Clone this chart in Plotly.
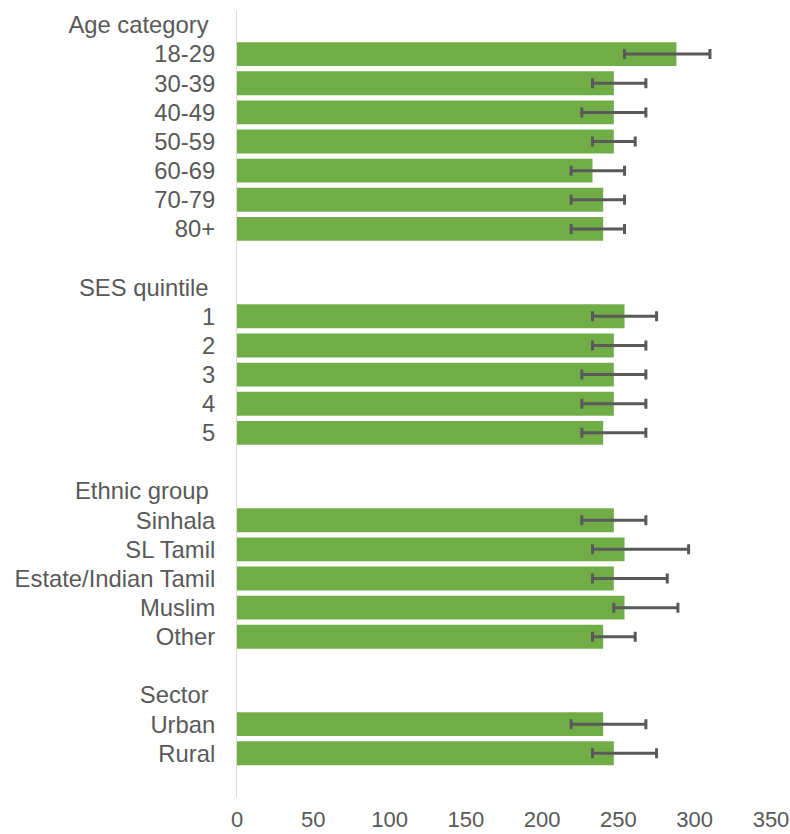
import plotly.graph_objects as go

# Group headers and the category labels under each
age_labels = ["18-29", "30-39", "40-49", "50-59", "60-69", "70-79", "80+"]
ses_labels = ["1", "2", "3", "4", "5"]
ethnic_labels = ["Sinhala", "SL Tamil", "Estate/Indian Tamil", "Muslim", "Other"]
sector_labels = ["Urban", "Rural"]

# Mean values
age_mean = [288, 247, 247, 247, 233, 240, 240]
ses_mean = [254, 247, 247, 247, 240]
ethnic_mean = [247, 254, 247, 254, 240]
sector_mean = [240, 247]

# 95% CI lower bounds
age_low = [254, 233, 226, 233, 219, 219, 219]
ses_low = [233, 233, 226, 226, 226]
ethnic_low = [226, 233, 233, 247, 233]
sector_low = [219, 233]

# 95% CI upper bounds
age_high = [310, 268, 268, 261, 254, 254, 254]
ses_high = [275, 268, 268, 268, 268]
ethnic_high = [268, 296, 282, 289, 261]
sector_high = [268, 275]

x_ticks = [0, 50, 100, 150, 200, 250, 300, 350]

groups = [
    ("Age category", age_labels, age_mean, age_low, age_high),
    ("SES quintile", ses_labels, ses_mean, ses_low, ses_high),
    ("Ethnic group", ethnic_labels, ethnic_mean, ethnic_low, ethnic_high),
    ("Sector", sector_labels, sector_mean, sector_low, sector_high),
]

NB = "\u00a0"
tick_text, tick_pos = [], []
ys, xs, err_plus, err_minus = [], [], [], []
row = 0
for gi, (header, labels, mean, low, high) in enumerate(groups):
    if gi > 0:
        row += 1  # blank spacer row between groups
    tick_text.append(header + NB)
    tick_pos.append(row)
    row += 1
    for lab, m, lo, hi in zip(labels, mean, low, high):
        tick_text.append(lab)
        tick_pos.append(row)
        ys.append(row)
        xs.append(m)
        err_plus.append(hi - m)
        err_minus.append(m - lo)
        row += 1

fig = go.Figure(
    go.Bar(
        x=xs,
        y=ys,
        orientation="h",
        width=0.82,
        marker=dict(color="#70AD47", line=dict(width=0)),
        error_x=dict(
            type="data",
            symmetric=False,
            array=err_plus,
            arrayminus=err_minus,
            color="#595959",
            thickness=3,
            width=5,
        ),
        hoverinfo="x+y",
    )
)

font = dict(family="Liberation Sans, Arial, sans-serif", size=23.8, color="#595959")
xfont = dict(family="Liberation Sans, Arial, sans-serif", size=22, color="#595959")

fig.update_layout(
    width=790,
    height=834,
    margin=dict(l=237, r=19, t=11, b=37, autoexpand=False),
    paper_bgcolor="white",
    plot_bgcolor="white",
    showlegend=False,
    font=font,
    xaxis=dict(
        range=[0, 350],
        tickvals=x_ticks,
        showgrid=False,
        zeroline=False,
        showline=False,
        ticks="",
        automargin=False,
        ticklabelstandoff=7,
        tickfont=xfont,
    ),
    yaxis=dict(
        range=[row + 0.5, -0.48],
        tickvals=tick_pos,
        ticktext=tick_text,
        showgrid=False,
        zeroline=False,
        showline=True,
        linecolor="#D9D9D9",
        linewidth=1,
        ticks="",
        automargin=False,
        ticklabelstandoff=16,
        tickfont=font,
    ),
)

fig.write_html("out.html")
